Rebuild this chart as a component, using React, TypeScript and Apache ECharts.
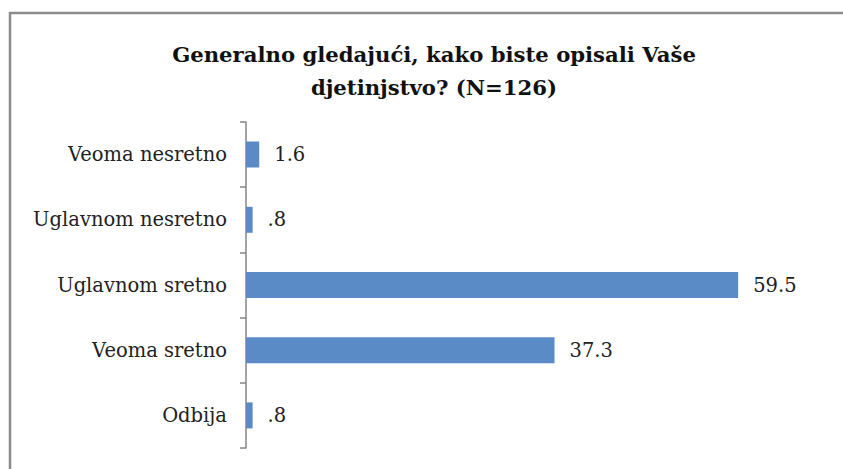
import React, { useEffect, useRef } from "react";
import * as echarts from "echarts";

const categories = ["Veoma nesretno", "Uglavnom nesretno", "Uglavnom sretno", "Veoma sretno", "Odbija"];
const values = [1.6, 0.8, 59.5, 37.3, 0.8];
const titleText = "Generalno gledajući, kako biste opisali Vaše\ndjetinjstvo? (N=126)";

export default function App() {
  const ref = useRef<HTMLDivElement>(null);
  useEffect(() => {
    document.body.style.margin = "0";
    const chart = echarts.init(ref.current!, undefined, { renderer: "svg" });
    chart.setOption({
      animation: false,
      backgroundColor: "#ffffff",
      graphic: [
        {
          type: "rect",
          shape: { x: 10, y: 13, width: 900, height: 500 },
          style: { fill: "none", stroke: "#8c8c8c", lineWidth: 2.5 },
          z: -1,
        },
      ],
      title: {
        text: titleText,
        left: 429,
        top: 33,
        textAlign: "center",
        textStyle: {
          fontFamily: "DejaVu Serif",
          fontWeight: "bold",
          fontSize: 21.2,
          lineHeight: 33,
          color: "#111",
        },
      },
      grid: { left: 246, right: 18, top: 122, bottom: 21, containLabel: false },
      xAxis: {
        type: "value",
        min: 0,
        max: 70,
        show: false,
      },
      yAxis: {
        type: "category",
        data: categories,
        inverse: true,
        axisLine: { show: true, lineStyle: { color: "#868686", width: 1.5 } },
        axisTick: { show: true, length: 6, lineStyle: { color: "#868686", width: 1.5 } },
        axisLabel: {
          margin: 19,
          fontFamily: "DejaVu Serif",
          fontSize: 19.5,
          color: "#222",
        },
      },
      series: [
        {
          type: "bar",
          data: values,
          barWidth: 26,
          itemStyle: { color: "#5a8bc6" },
          label: {
            show: true,
            position: "right",
            distance: 15,
            fontFamily: "DejaVu Serif",
            fontSize: 19.5,
            color: "#222",
            formatter: (p: any) => String(p.value).replace(/^0\./, "."),
          },
        },
      ],
    });
    return () => chart.dispose();
  }, []);
  return <div ref={ref} style={{ width: 843, height: 469 }} />;
}
